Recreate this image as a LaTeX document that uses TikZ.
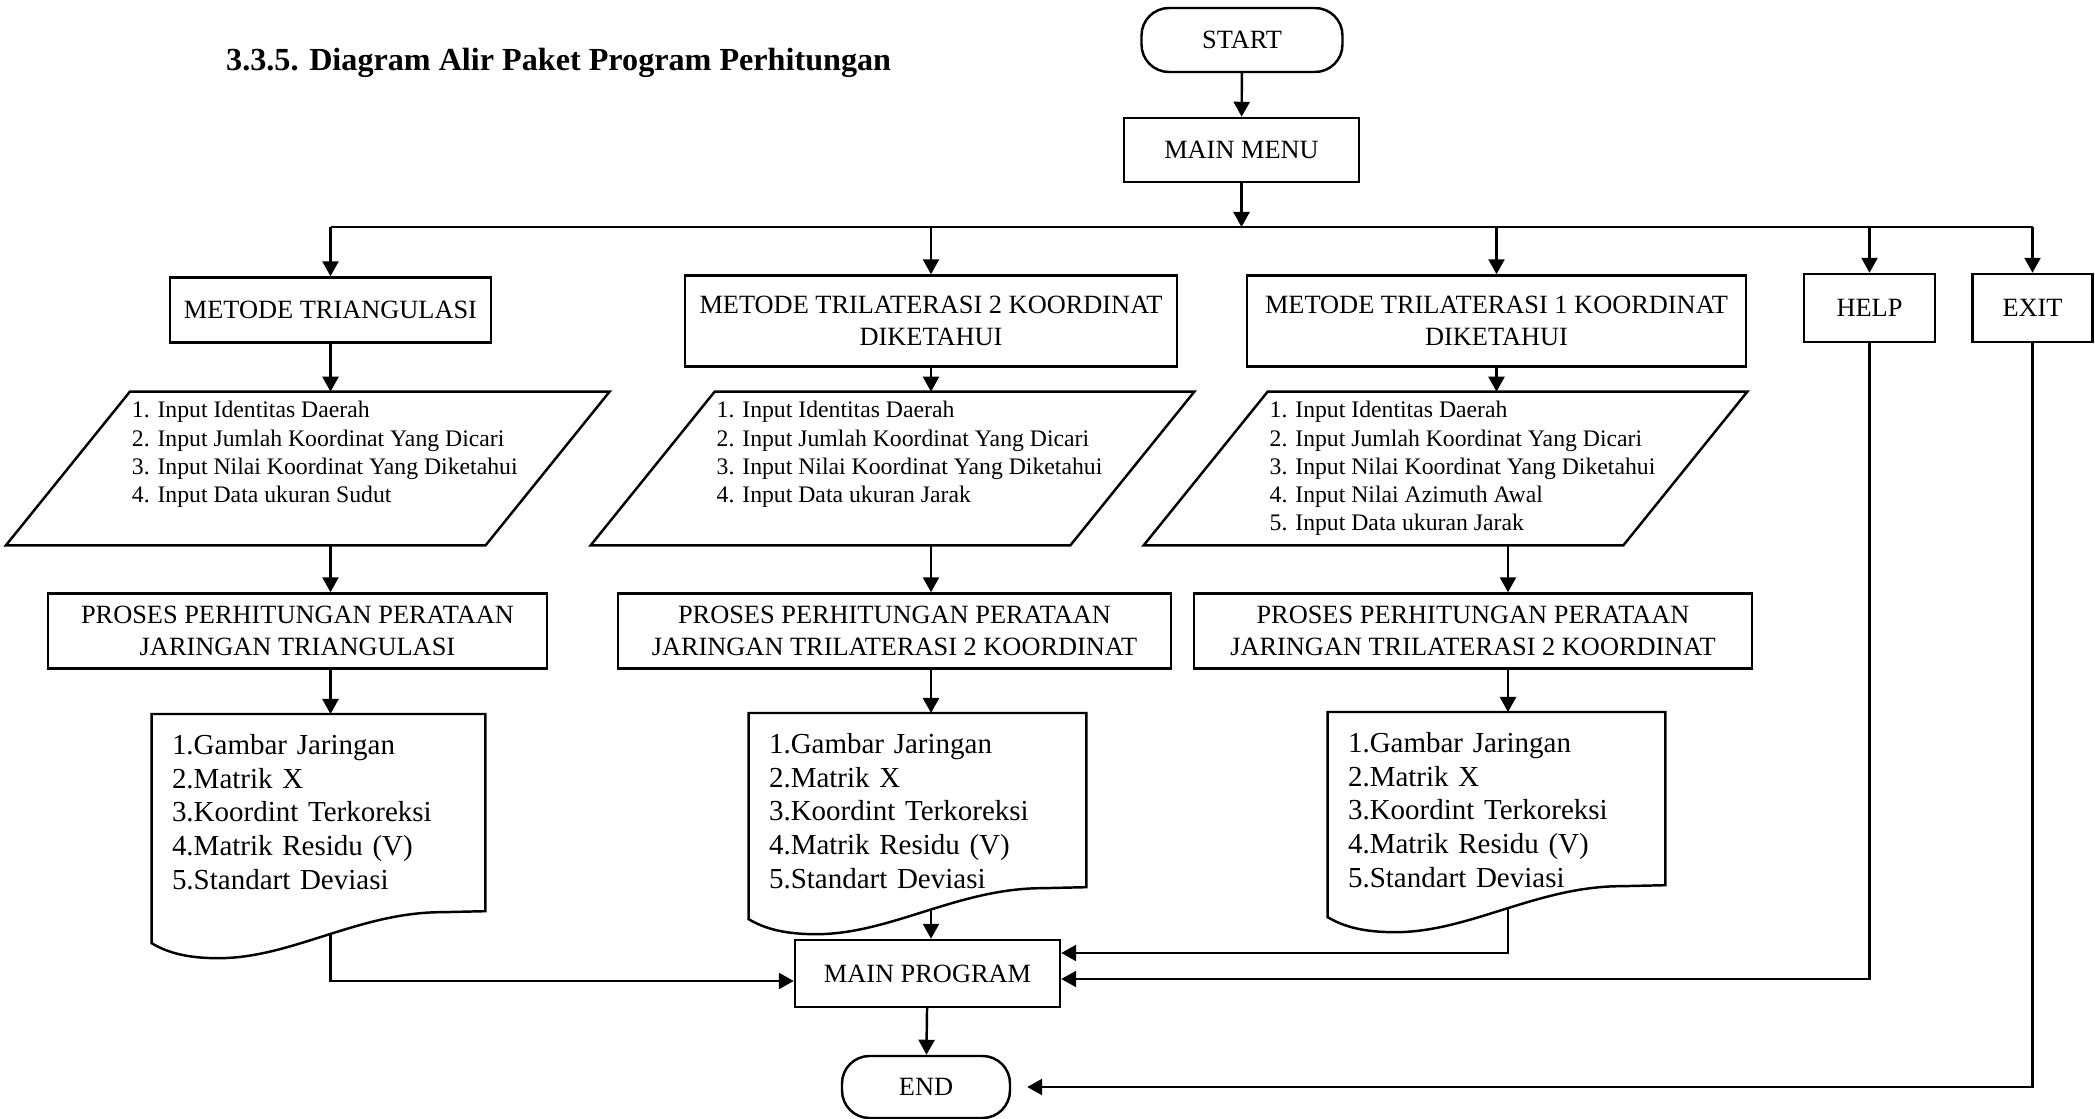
\documentclass[tikz,border=0pt]{standalone}
\usepackage{fontspec}
\setmainfont{Liberation Serif}
\usetikzlibrary{arrows.meta,calc}

\tikzset{
  box/.style={rectangle, draw, line width=1.4pt, inner sep=2pt, align=center,
    font=\fontsize{15}{18}\selectfont},
  term/.style={box, rounded corners=0.55cm},
  inbox/.style={rectangle, inner sep=0pt, minimum width=12.06cm, minimum height=3.06cm,
    font=\fontsize{13.5}{16}\selectfont},
  outbox/.style={rectangle, anchor=north, inner xsep=0.4cm, inner ysep=0.4cm,
    align=left, font=\fontsize{16.5}{19.2}\selectfont},
  wire/.style={line width=1.4pt},
  arr/.style={line width=1.4pt, -{Triangle[width=0.32cm,length=0.3cm]}}
}

% list inside an input shape
\newcommand{\inlist}[1]{\begin{tabular}{@{\hspace{0.68cm}}l@{}}#1\end{tabular}}

% slanted input frame round node #1
\newcommand{\inshape}[1]{%
  \draw[wire] ([xshift=2.48cm]#1.north west) -- (#1.north east)
    -- ([xshift=-2.48cm]#1.south east) -- (#1.south west) -- cycle;
}

% output document with wavy bottom: #1 node, #2 extra drop of left corner
\newcommand{\docshape}[2]{%
  \draw[wire]
    ($(#1.south west)+(0,-#2)$) -- (#1.north west) -- (#1.north east)
    -- ($(#1.south east)+(0,{0.64-#2})$)
    -- ($(#1.south west)!0.87!(#1.south east)+(0,{0.62-#2})$)
    .. controls ($(#1.south west)!0.62!(#1.south east)+(0,{0.62-#2})$)
       and ($(#1.south west)!0.42!(#1.south east)+(0,{-0.3-#2})$)
    .. ($(#1.south west)!0.2!(#1.south east)+(0,{-0.3-#2})$)
    .. controls ($(#1.south west)!0.11!(#1.south east)+(0,{-0.3-#2})$)
       and ($(#1.south west)!0.05!(#1.south east)+(0,{-0.2-#2})$)
    .. ($(#1.south west)+(0,-#2)$) -- cycle;
  \coordinate (#1-w) at ($(#1.south west)!0.52!(#1.south east)+(0,{0.16-#2})$);
}

\begin{document}
\begin{tikzpicture}
    \useasboundingbox (0,0) rectangle (41.9,-22.38);

    % Title
    \node[anchor=base west, font=\bfseries\fontsize{18.3}{22}\selectfont] (title) at (4.4,-1.42)
        {3.3.5. Diagram Alir Paket Program Perhitungan};

    % Start and menu
    \node[term, minimum width=4.02cm, minimum height=1.28cm] (start) at (24.84,-0.8) {START};
    \node[box, minimum width=4.7cm, minimum height=1.28cm] (menu) at (24.83,-3.0) {MAIN MENU};
    \coordinate (bus) at (0,-4.54);
    \coordinate (col3) at (30.16,-13);

    % Choices
    \node[box, minimum width=6.42cm, minimum height=1.3cm] (tri) at (6.61,-6.2) {METODE TRIANGULASI};
    \node[box, minimum width=9.84cm, minimum height=1.82cm] (tril2) at (18.62,-6.42)
        {METODE TRILATERASI 2 KOORDINAT\\DIKETAHUI};
    \node[box, minimum width=9.98cm, minimum height=1.82cm] (tril1) at (29.93,-6.42)
        {METODE TRILATERASI 1 KOORDINAT\\DIKETAHUI};
    \node[box, minimum width=2.62cm, minimum height=1.36cm] (help) at (37.39,-6.16) {HELP};
    \node[box, minimum width=2.4cm, minimum height=1.36cm] (exit) at (40.65,-6.16) {EXIT};

    % Inputs
    \node[inbox] (in1) at (6.155,-9.37) {\inlist{1. Input Identitas Daerah\\
        2. Input Jumlah Koordinat Yang Dicari\\3. Input Nilai Koordinat Yang Diketahui\\
        4. Input Data ukuran Sudut\\ \mbox{}}};
    \node[inbox] (in2) at (17.85,-9.37) {\inlist{1. Input Identitas Daerah\\
        2. Input Jumlah Koordinat Yang Dicari\\3. Input Nilai Koordinat Yang Diketahui\\
        4. Input Data ukuran Jarak\\ \mbox{}}};
    \node[inbox] (in3) at (28.91,-9.37) {\inlist{1. Input Identitas Daerah\\
        2. Input Jumlah Koordinat Yang Dicari\\3. Input Nilai Koordinat Yang Diketahui\\
        4. Input Nilai Azimuth Awal\\5. Input Data ukuran Jarak}};
    \inshape{in1}
    \inshape{in2}
    \inshape{in3}

    % Processes
    \node[box, minimum width=9.98cm, minimum height=1.5cm] (proc1) at (5.95,-12.62)
        {PROSES PERHITUNGAN PERATAAN\\JARINGAN TRIANGULASI};
    \node[box, minimum width=11.06cm, minimum height=1.5cm] (proc2) at (17.89,-12.62)
        {PROSES PERHITUNGAN PERATAAN\\JARINGAN TRILATERASI 2 KOORDINAT};
    \node[box, minimum width=11.16cm, minimum height=1.5cm] (proc3) at (29.46,-12.62)
        {PROSES PERHITUNGAN PERATAAN\\JARINGAN TRILATERASI 2 KOORDINAT};

    % Outputs
    \node[outbox, text width=5.86cm] (out1) at (6.37,-14.28)
        {1.Gambar Jaringan\\2.Matrik X\\3.Koordint Terkoreksi\\4.Matrik Residu (V)\\5.Standart Deviasi};
    \node[outbox, text width=5.94cm] (out2) at (18.35,-14.26)
        {1.Gambar Jaringan\\2.Matrik X\\3.Koordint Terkoreksi\\4.Matrik Residu (V)\\5.Standart Deviasi};
    \node[outbox, text width=5.94cm] (out3) at (29.93,-14.24)
        {1.Gambar Jaringan\\2.Matrik X\\3.Koordint Terkoreksi\\4.Matrik Residu (V)\\5.Standart Deviasi};
    \docshape{out1}{0.66}
    \docshape{out2}{0.2}
    \docshape{out3}{0.18}

    % End part
    \node[box, minimum width=5.3cm, minimum height=1.34cm] (mainprog) at (18.55,-19.47) {MAIN PROGRAM};
    \node[term, minimum width=3.36cm, minimum height=1.24cm] (stop) at (18.52,-21.74) {END};

    % Arrows
    \draw[arr] (start) -- (menu);
    \draw[arr] (menu) -- (menu |- bus);
    \draw[wire] (tri |- bus) -- (exit |- bus);
    \foreach \n in {tri,tril2,tril1,help,exit}
        \draw[arr] (\n |- bus) -- (\n);

    \draw[arr] (tri) -- (tri |- in1.north);
    \draw[arr] (tril2) -- (tril2 |- in2.north);
    \draw[arr] (tril1) -- (tril1 |- in3.north);
    \draw[arr] (tri |- in1.south) -- (tri |- proc1.north);
    \draw[arr] (tril2 |- in2.south) -- (tril2 |- proc2.north);
    \draw[arr] (col3 |- in3.south) -- (col3 |- proc3.north);
    \draw[arr] (tri |- proc1.south) -- (tri |- out1.north);
    \draw[arr] (tril2 |- proc2.south) -- (tril2 |- out2.north);
    \draw[arr] (col3 |- proc3.south) -- (col3 |- out3.north);

    \draw[arr] (tri |- out1-w) |- ([yshift=-0.15cm]mainprog.west);
    \draw[arr] (tril2 |- out2-w) -- (tril2 |- mainprog.north);
    \draw[arr] (col3 |- out3-w) |- ([yshift=0.41cm]mainprog.east);
    \draw[arr] (help) |- ([yshift=-0.11cm]mainprog.east);
    \draw[arr] (mainprog) -- (stop);
    \draw[arr, shorten >=0.32cm] (exit) |- (stop);

\end{tikzpicture}
\end{document}
